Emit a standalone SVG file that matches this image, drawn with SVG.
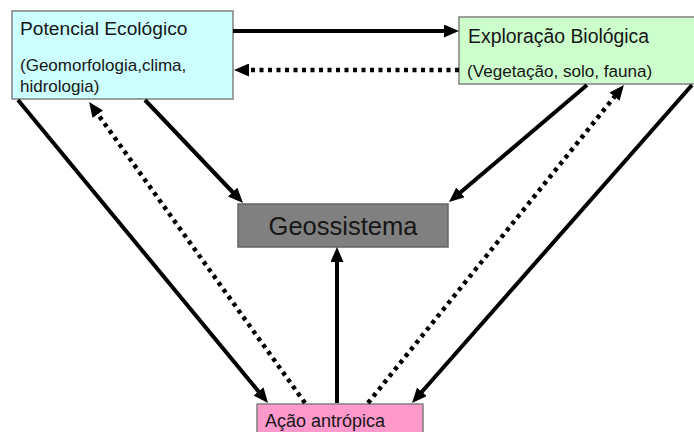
<svg xmlns="http://www.w3.org/2000/svg" width="694" height="432" viewBox="0 0 694 432">
<style>
.box{stroke:#808080;stroke-width:1.5}
.t{font-family:"Liberation Sans",Arial,sans-serif;fill:#161616}
.solid{stroke:#000;stroke-width:4;fill:none;marker-end:url(#ah)}
.dot{stroke:#000;stroke-width:4.5;fill:none;stroke-dasharray:4 4.5;marker-end:url(#ah)}
</style>
<defs>
<marker id="ah" markerUnits="userSpaceOnUse" markerWidth="15" markerHeight="13" refX="4" refY="6.5" orient="auto">
<path d="M0,0 L15,6.5 L0,13 z" fill="#000"/>
</marker>
</defs>
<rect width="694" height="432" fill="#fff"/>
<g id="potencial">
<rect class="box" x="12" y="11" width="221" height="88" fill="#ccffff"/>
<text class="t" x="20" y="35" font-size="19.2">Potencial Ecológico</text>
<text class="t" x="20" y="71" font-size="17">(Geomorfologia,clima,</text>
<text class="t" x="20" y="92" font-size="17">hidrologia)</text>
</g>
<g id="exploracao">
<rect class="box" x="459" y="17" width="245" height="67" fill="#ccffcc"/>
<text class="t" x="468" y="43" font-size="19.4">Exploração Biológica</text>
<text class="t" x="467" y="77" font-size="17.1">(Vegetação, solo, fauna)</text>
</g>
<g id="geossistema">
<rect x="238" y="204" width="210" height="43" fill="#808080" stroke="#666" stroke-width="1.5"/>
<text class="t" x="343" y="235" font-size="25.5" text-anchor="middle">Geossistema</text>
</g>
<g id="acao">
<rect class="box" x="257" y="404" width="166" height="40" fill="#ff99cc"/>
<text class="t" x="265" y="427" font-size="18">Ação antrópica</text>
</g>
<g id="connectors">
<line class="solid" x1="233" y1="31" x2="448" y2="31"/>
<line class="dot" x1="459" y1="70" x2="245" y2="70"/>
<line class="solid" x1="18" y1="100" x2="261" y2="394.5"/>
<line class="dot" x1="305" y1="403" x2="95.5" y2="111"/>
<line class="solid" x1="145" y1="100" x2="235.4" y2="195"/>
<line class="solid" x1="587" y1="85" x2="457.4" y2="195"/>
<line class="dot" x1="368" y1="403" x2="617" y2="93.6"/>
<line class="solid" x1="692" y1="85" x2="419.3" y2="394.7"/>
<line class="solid" x1="337" y1="403" x2="337" y2="258"/>
</g>
</svg>
